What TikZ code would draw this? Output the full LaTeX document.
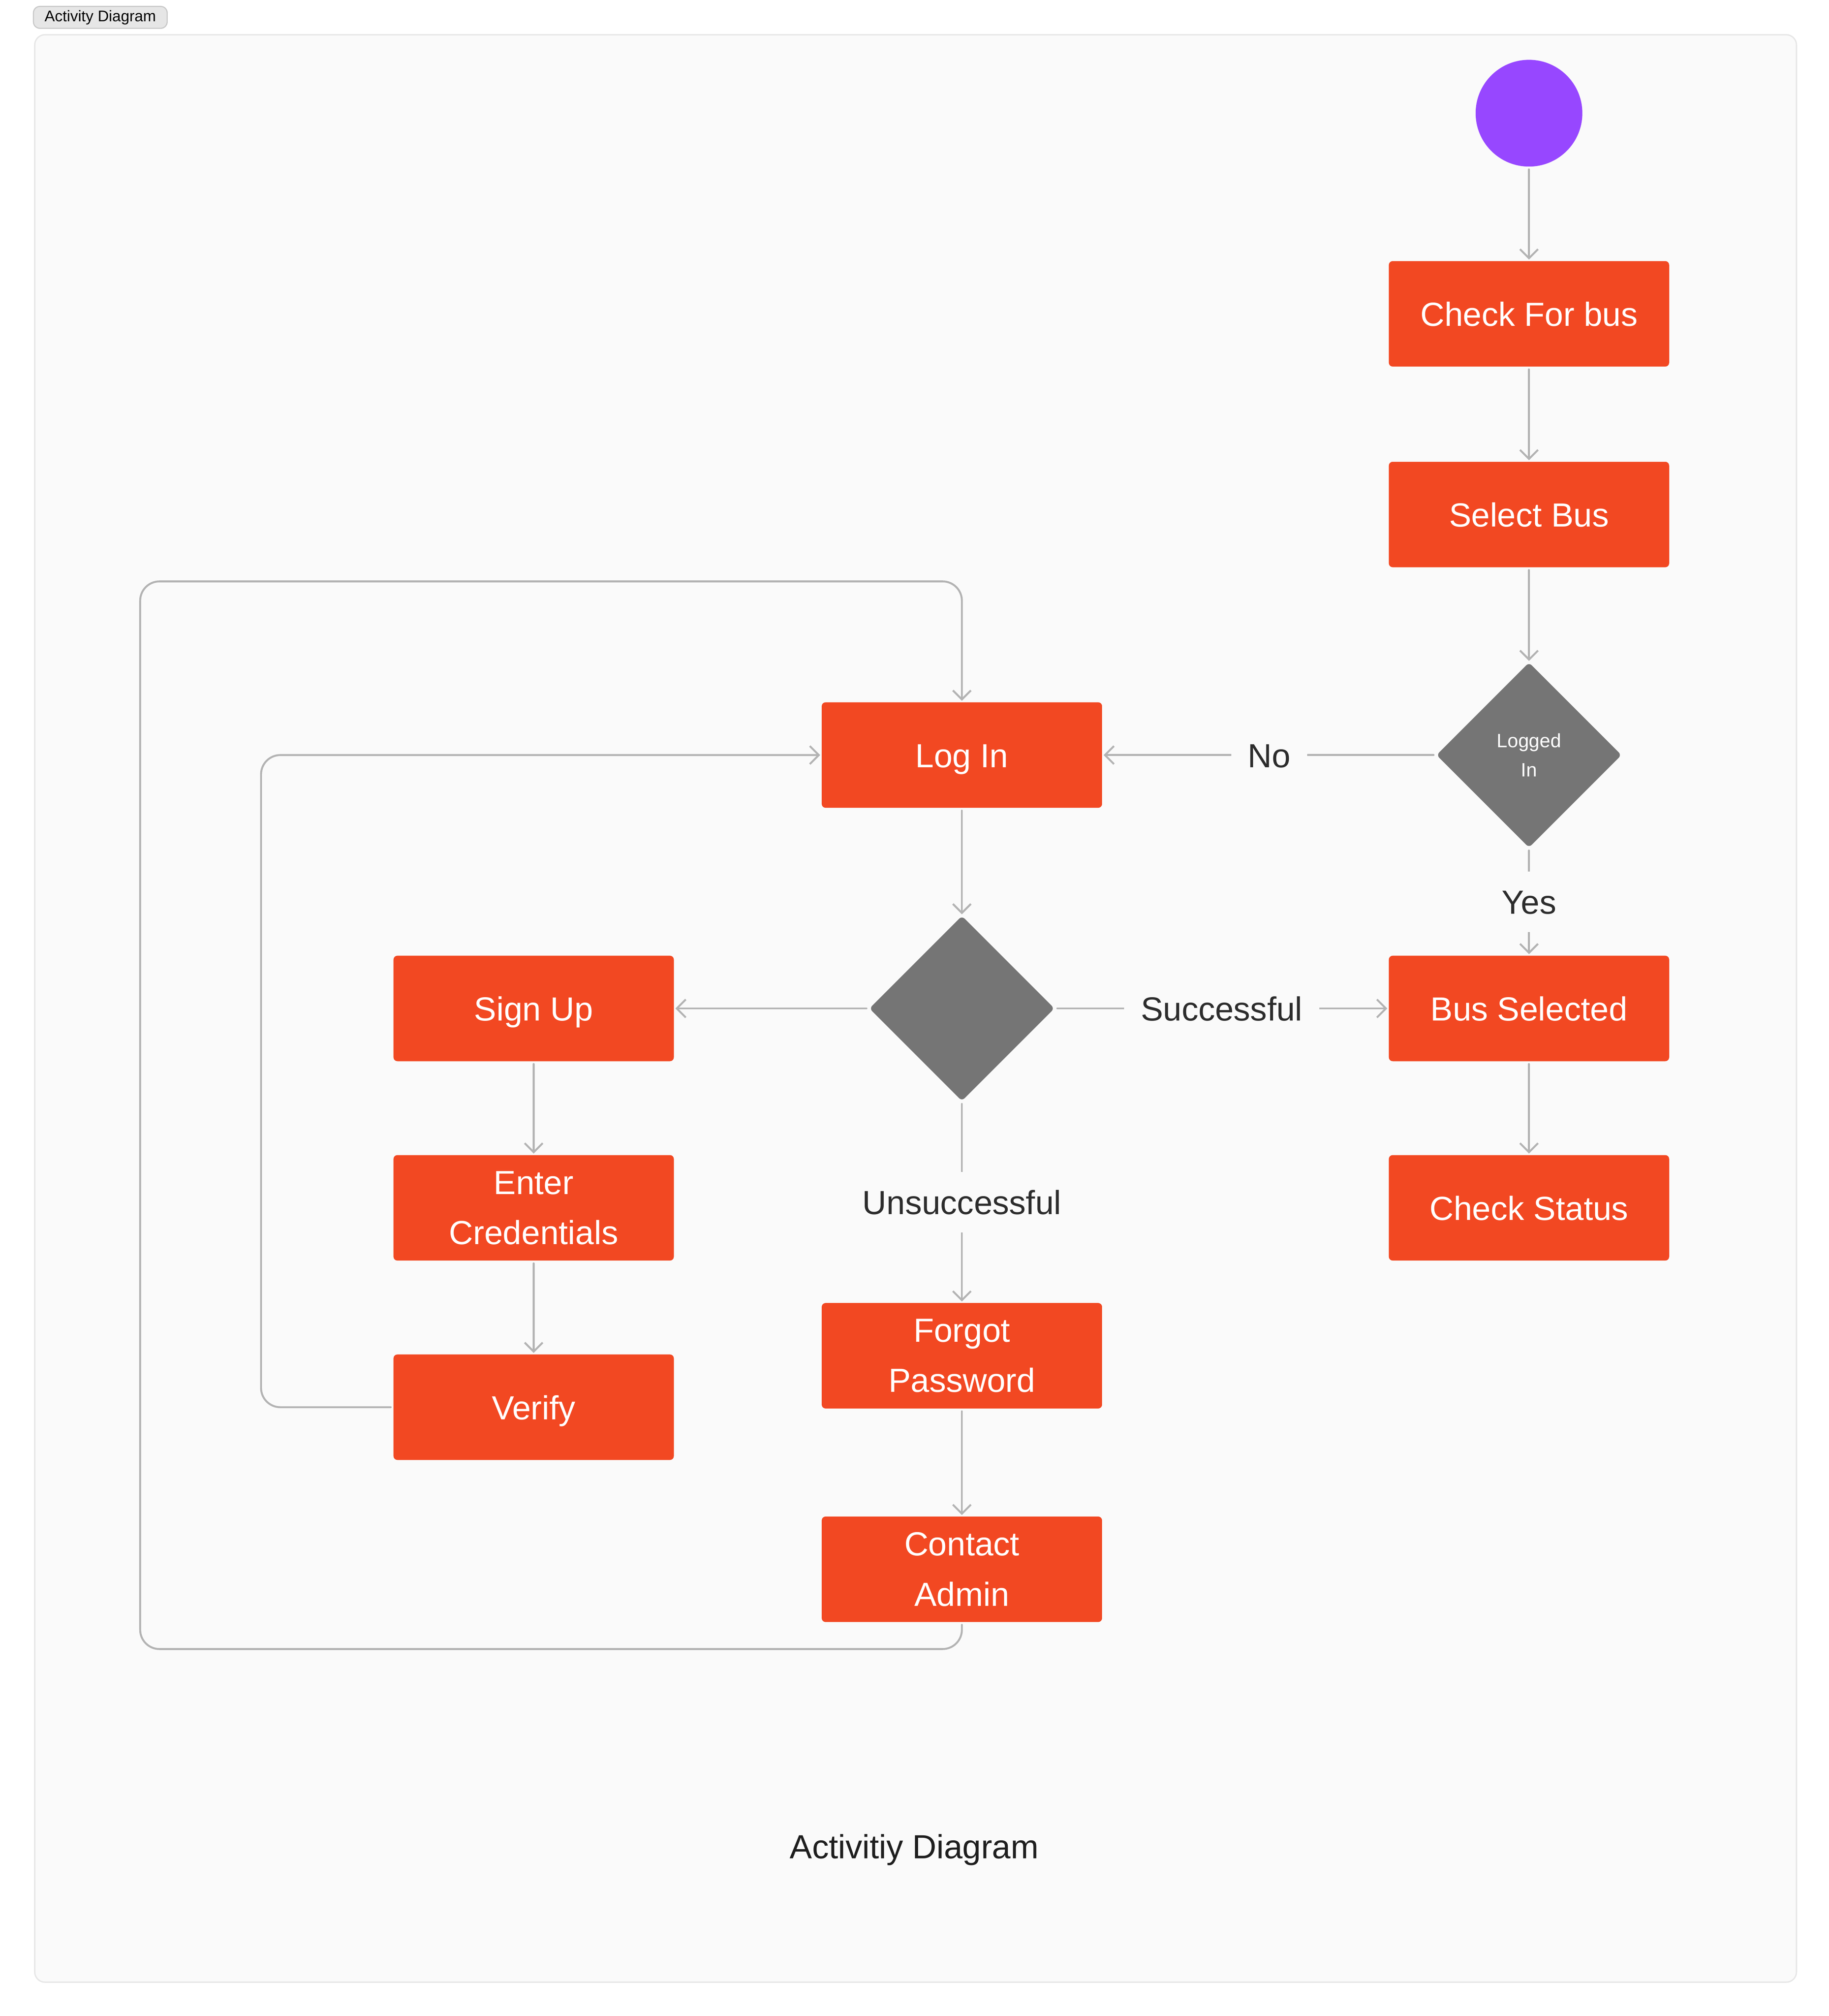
\documentclass[tikz,border=0pt]{standalone}
\usepackage{fontspec}
\setmainfont{Liberation Sans}
\usetikzlibrary{positioning,arrows.meta,shapes.geometric}
\definecolor{actfill}{HTML}{F24822}
\definecolor{decfill}{HTML}{757575}
\definecolor{initfill}{HTML}{9747FF}
\definecolor{edge}{HTML}{B3B3B3}
\definecolor{panel}{HTML}{FAFAFA}
\definecolor{panelline}{HTML}{E6E6E6}
\definecolor{tagfill}{HTML}{E6E6E6}
\definecolor{tagline}{HTML}{C7C7C7}
\definecolor{labeltext}{HTML}{2C2C2C}
\definecolor{captiontext}{HTML}{1E1E1E}
\tikzset{
    x=1pt,
    y=-1pt,
    activity/.style = {
        fill=actfill,
        shape=rectangle,
        rounded corners=3pt,
        minimum width=218pt,
        minimum height=82pt,
        text=white,
        align=center,
        font=\fontsize{26}{39}\selectfont
    },
    oneline/.style = {
        text height=19pt,
        text depth=0pt
    },
    decision/.style = {
        fill=decfill,
        shape=diamond,
        rounded corners=3pt,
        minimum width=144pt,
        minimum height=144pt,
        inner sep=0pt,
        text=white,
        align=center,
        font=\fontsize{15}{23}\selectfont
    },
    initnode/.style = {
        fill=initfill,
        shape=circle,
        minimum size=83pt,
        inner sep=0pt
    },
    guard/.style = {
        fill=panel,
        text=labeltext,
        font=\fontsize{26}{30}\selectfont,
        text height=19pt,
        text depth=0pt,
        inner xsep=13pt,
        inner ysep=14pt
    },
    flow/.style = {
        draw=edge,
        line width=1.5pt,
        line cap=round,
        shorten <=2pt,
        shorten >=1pt
    },
    tag/.style = {
        draw=tagline,
        fill=tagfill,
        rounded corners=5pt,
        line width=0.8pt,
        minimum width=104pt,
        minimum height=17pt,
        inner sep=0pt,
        font=\fontsize{12}{14}\selectfont
    },
    caption/.style = {
        text=captiontext,
        font=\fontsize{26}{30}\selectfont
    },
    >={Straight Barb[length=7pt,width=14pt]},
}

\begin{document}
\begin{tikzpicture}
            \useasboundingbox[fill=white] (0,0) rectangle (1422,1567.3);
            \path[draw=panelline, fill=panel, line width=1pt, rounded corners=8pt] (27,27) rectangle (1397,1541);
            \node[tag] (tag) at (78,13.5) {Activity Diagram};

            \node[initnode] (init) at (1189,88) {};
            \node[activity, oneline] (check) at (1189,244) {Check For bus};
            \node[activity, oneline] (select) at (1189,400) {Select Bus};
            \node[decision] (logged) at (1189,587) {Logged\\In};
            \node[activity, oneline] (selected) at (1189,784) {Bus Selected};
            \node[activity, oneline] (status) at (1189,939) {Check Status};
            \node[activity, oneline] (login) at (748,587) {Log In};
            \node[decision] (choice) at (748,784) {};
            \node[activity] (forgot) at (748,1054) {Forgot\\Password};
            \node[activity] (contact) at (748,1220) {Contact\\Admin};
            \node[activity, oneline] (signup) at (415,784) {Sign Up};
            \node[activity] (creds) at (415,939) {Enter\\Credentials};
            \node[activity, oneline] (verify) at (415,1094) {Verify};
            \node[caption] (caption) at (711,1438) {Activitiy Diagram};

            \coordinate (loopbl) at (109,1282);
            \coordinate (looptl) at (109,452);
            \coordinate (loopvl) at (203,1094);

            \path[flow, ->] (init) -- (check);
            \path[flow, ->] (check) -- (select);
            \path[flow, ->] (select) -- (logged);
            \path[flow, ->] (logged) -- node[guard] {No} (login);
            \path[flow, ->] (logged) -- node[guard] {Yes} (selected);
            \path[flow, ->] (selected) -- (status);
            \path[flow, ->] (login) -- (choice);
            \path[flow, ->] (choice) -- node[guard] {Successful} (selected);
            \path[flow, ->] (choice) -- (signup);
            \path[flow, ->] (choice) -- node[guard] {Unsuccessful} (forgot);
            \path[flow, ->] (signup) -- (creds);
            \path[flow, ->] (creds) -- (verify);
            \path[flow, ->] (forgot) -- (contact);
            \path[flow, ->, rounded corners=15pt] (contact.south) |- (loopbl) -- (looptl) -| (login.north);
            \path[flow, ->, rounded corners=15pt] (verify.west) -- (loopvl) |- (login.west);
        \end{tikzpicture}
\end{document}
